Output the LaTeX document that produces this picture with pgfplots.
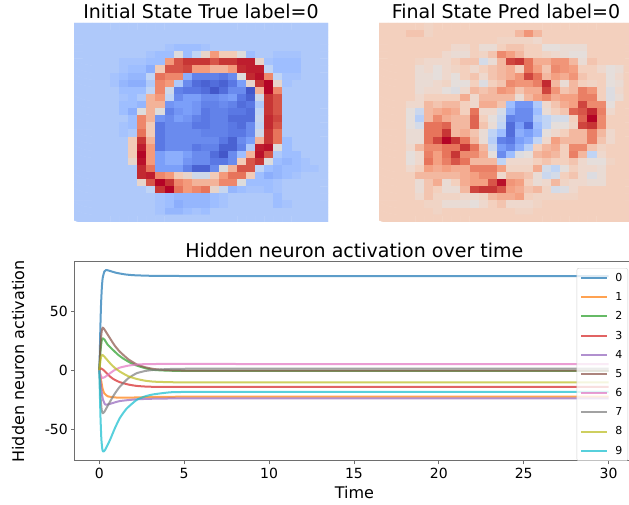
\documentclass[border=0pt]{standalone}
\usepackage{fontspec}
\setmainfont{DejaVu Sans}
\usepackage{pgfplots}
\pgfplotsset{compat=1.18}
\definecolor{c0}{HTML}{1F77B4}
\definecolor{c1}{HTML}{FF7F0E}
\definecolor{c2}{HTML}{2CA02C}
\definecolor{c3}{HTML}{D62728}
\definecolor{c4}{HTML}{9467BD}
\definecolor{c5}{HTML}{8C564B}
\definecolor{c6}{HTML}{E377C2}
\definecolor{c7}{HTML}{7F7F7F}
\definecolor{c8}{HTML}{BCBD22}
\definecolor{c9}{HTML}{17BECF}
\definecolor{spine}{HTML}{6E6E6E}
\pgfplotsset{
  colormap={cw}{
    rgb255(0pt)=(59,76,192)
    rgb255(2pt)=(90,120,228)
    rgb255(4pt)=(123,159,249)
    rgb255(6pt)=(158,190,255)
    rgb255(8pt)=(192,212,245)
    rgb255(10pt)=(221,220,220)
    rgb255(12pt)=(242,203,183)
    rgb255(14pt)=(244,154,123)
    rgb255(16pt)=(231,116,91)
    rgb255(18pt)=(199,54,53)
    rgb255(20pt)=(180,4,38)
  },
  colormap={cwb}{
    rgb255(0pt)=(59,76,192)
    rgb255(2pt)=(90,120,228)
    rgb255(4pt)=(123,159,249)
    rgb255(6pt)=(158,190,255)
    rgb255(8pt)=(192,212,245)
    rgb255(9pt)=(212,219,232)
    rgb255(10pt)=(229,222,219)
    rgb255(11pt)=(238,216,205)
    rgb255(12pt)=(243,208,190)
    rgb255(14pt)=(244,160,130)
    rgb255(16pt)=(231,116,91)
    rgb255(18pt)=(199,54,53)
    rgb255(20pt)=(180,4,38)
  },
  heat/.style={
    scale only axis, width=254pt, height=199pt, anchor=south west,
    xmin=-0.5, xmax=27.5, ymin=-0.5, ymax=27.5, y dir=reverse,
    xtick=\empty, ytick=\empty, axis line style={draw=none},
    point meta min=0, point meta max=20,
    title style={font=\fontsize{19}{21}\selectfont, yshift=-5pt},
  },
  hm/.style={matrix plot*, mesh/cols=28, mesh/ordering=x varies, point meta=explicit, shader=flat corner},
  /pgfplots/table/hmt/.style={row sep=\\, header=false, x expr={mod(\coordindex,28)}, y expr={floor(\coordindex/28)}, meta index=0},
  ln/.style={line width=2pt, opacity=0.72, no marks, line join=round},
}
\begin{document}
\begin{tikzpicture}[x=1pt,y=1pt]
\path[use as bounding box] (0,0) rectangle (629,505);
\clip (0,0) rectangle (629,505);
\begin{axis}[heat, colormap name=cw, at={(74pt,283pt)}, title={Initial State True label=0}]
\addplot[hm] table[hmt] {
7\\7\\7\\7\\7\\7\\7\\7\\7\\7\\7\\7\\7\\7\\7\\7\\7\\7\\7\\7\\7\\7\\7\\7\\7\\7\\7\\7\\
7\\7\\7\\7\\7\\7\\7\\7\\7\\7\\7\\7\\7\\7\\7\\7\\7\\7\\7\\7\\7\\7\\7\\7\\7\\7\\7\\7\\
7\\7\\7\\7\\7\\7\\7\\7\\7\\7\\7\\7\\7\\7\\7\\7\\7\\7\\7\\7\\7\\7\\7\\7\\7\\7\\7\\7\\
7\\7\\7\\7\\7\\7\\7\\7\\7\\7\\6.5\\6\\6\\6\\6.5\\7\\7\\7\\7\\7\\7\\7\\7\\7\\7\\7\\7\\7\\
7\\7\\7\\7\\7\\7\\7\\7\\6.5\\6\\6\\10\\6\\8\\11\\14\\12\\12\\10\\6\\7\\7\\6.5\\6.5\\6.5\\7\\7\\7\\
7\\7\\7\\7\\7\\6.5\\6.5\\6.5\\6\\6\\14\\17\\18\\18\\18\\17\\18\\18\\19\\19\\11\\6.5\\6\\6\\6\\7\\7\\7\\
7\\7\\7\\7\\7\\6.5\\6\\6\\5\\12\\17\\17\\17.5\\14\\14\\13\\13\\14\\18.5\\19\\19\\8\\6\\6\\6\\7\\7\\7\\
7\\7\\7\\7\\6.5\\6\\5.5\\5.5\\8\\16\\15\\15\\5\\2.5\\2.5\\2.5\\2\\3\\10\\18.5\\19.5\\15\\8\\6.5\\6.5\\7\\7\\7\\
7\\7\\7\\7\\6.5\\5.5\\5\\5\\7\\15\\14\\7\\3\\1.5\\1\\1.5\\1\\2\\4\\11\\18\\20\\11\\6.5\\7\\7\\7\\7\\
7\\7\\7\\7\\7\\6\\6\\6\\8\\15\\9\\2.5\\2\\2\\1.5\\0.5\\1.5\\3\\3\\0.5\\13\\20\\15\\7\\7\\7\\7\\7\\
7\\7\\7\\7\\7\\6.5\\6\\7\\13\\14\\8\\3\\4\\4\\3\\3\\3.5\\4\\2\\1\\9\\18\\17\\7\\7\\7\\7\\7\\
7\\7\\7\\7\\7\\6\\6\\5.5\\13\\13\\3.5\\4\\4\\3.5\\2.5\\2.5\\3\\2.5\\1.5\\2\\7\\18\\17\\7\\7\\7\\7\\7\\
7\\7\\7\\7\\7\\6\\5\\10\\13\\10\\2.5\\3.5\\4\\3.5\\2\\2.5\\2.5\\2\\2\\1.5\\8\\18\\17\\7\\7\\7\\7\\7\\
7\\7\\7\\7\\7\\7\\6\\15\\13\\3.5\\3\\4\\3.5\\2.5\\2\\2.5\\2.5\\1.5\\1.5\\1.5\\8.5\\18.5\\17.5\\7\\7\\7\\7\\7\\
7\\7\\7\\7\\7\\6.5\\6\\15\\12\\2\\3\\3\\3\\2\\2\\2.5\\2.5\\2\\1.5\\3\\8\\18.5\\17\\7\\7\\7\\7\\7\\
7\\7\\7\\7\\7\\6.5\\7\\16\\12\\2\\3\\3\\3\\3\\2.5\\2.5\\2.5\\2\\2\\3\\9\\18\\16\\7\\7\\7\\7\\7\\
7\\7\\7\\7\\7\\7\\12\\18\\13\\2\\3\\3\\3\\3\\3\\3\\2\\1\\3\\4\\13\\18\\16\\6\\7\\7\\7\\7\\
7\\7\\7\\7\\7\\7\\12\\19\\14\\2\\3\\3\\3\\2\\2.5\\2.5\\1\\1\\2.5\\7\\19\\19.5\\10\\6\\7\\7\\7\\7\\
7\\7\\7\\7\\7\\7\\12\\20\\14\\4\\5\\5\\4\\3\\3\\1.5\\0.5\\3\\6\\13\\19.5\\17\\7\\6\\6\\7\\7\\7\\
7\\7\\7\\7\\7\\7\\11\\19.5\\14\\4\\5\\5\\3.5\\3\\3\\2\\2\\3\\12\\17\\18\\10\\6\\5.5\\6\\6.5\\7\\7\\
7\\7\\7\\7\\7\\7\\7\\18.5\\16\\4\\4\\4\\2.5\\1\\1\\3\\10\\13\\17\\17\\8\\6\\5.5\\6\\6\\6.5\\6.5\\7\\
7\\7\\7\\7\\7\\7\\7\\18.5\\19\\15\\14\\12\\11\\9\\9\\12\\14\\16\\16\\12\\6\\5\\5.5\\6\\6.5\\7\\7\\7\\
7\\7\\7\\7\\7\\7\\7\\11\\17\\20\\18\\15\\14\\13\\13\\13\\15\\15\\10\\6\\6\\6\\6.5\\7\\7\\7\\7\\7\\
7\\7\\7\\7\\7\\7\\7\\7\\8\\18\\20\\16\\14\\15\\16\\11\\8.5\\5.5\\6\\6.5\\6.5\\6\\6.5\\7\\7\\7\\7\\7\\
7\\7\\7\\7\\7\\7\\7\\7\\7\\6.5\\6\\5.5\\5.5\\5.5\\5.5\\6\\6.5\\7\\7\\7\\7\\7\\6\\7\\7\\7\\7\\7\\
7\\7\\7\\7\\7\\7\\7\\7\\7\\6.5\\6\\5\\5.5\\5.5\\5.5\\6\\6.5\\7\\7\\7\\7\\7\\6\\6.5\\7\\7\\7\\7\\
7\\7\\7\\7\\7\\7\\7\\7\\7\\6.5\\5.5\\5.5\\6\\6.5\\6\\7\\7\\7\\7\\7\\7\\7\\7\\7\\7\\7\\7\\7\\
7\\7\\7\\7\\7\\7\\7\\7\\7\\7\\7\\7\\7\\7\\7\\7\\7\\7\\7\\7\\7\\7\\7\\7\\7\\7\\7\\7\\
};
\end{axis}
\begin{axis}[heat, colormap name=cwb, at={(379pt,283pt)}, title={Final State Pred label=0}]
\addplot[hm] table[hmt] {
12\\12\\12\\12\\12\\11.5\\12\\12\\12\\12\\12\\12\\12\\12\\12\\12\\12\\12\\12\\12\\12\\12\\12\\12\\12\\12\\12\\12\\
12\\12\\12\\12.5\\12.5\\11.5\\12\\12\\12\\12\\12\\12\\12\\12\\12\\13\\14.5\\13\\12\\12\\12\\12\\12\\12\\12\\12\\12\\12\\
12\\12\\12\\12\\12\\12\\12\\12\\12\\12\\12\\12\\12\\11.5\\11.5\\11.5\\11.5\\11\\12\\12\\12\\12\\12\\12\\12\\12\\12\\12\\
12\\12\\12\\12\\12\\12\\12\\12\\11\\11\\12\\10.5\\10.5\\12\\12.5\\12.5\\12\\12\\10\\10\\10.5\\10.5\\10.5\\12\\12\\12\\12\\12\\
12\\12\\12\\12\\12\\12\\12\\11\\10.5\\10.5\\12\\11.5\\12.5\\15\\14\\13\\12\\12\\11.5\\11\\10.5\\10\\10\\12\\12\\12\\12\\12\\
12\\12\\12\\12\\11.5\\11\\11\\11\\12\\12.5\\12.5\\9\\10.5\\13\\17.5\\18\\16\\13.5\\13.5\\14.5\\14.5\\13\\10.5\\12.5\\12\\12\\12\\12\\
12\\12\\12\\12\\10.5\\11\\10\\11\\11.5\\12\\11\\12\\12.5\\13\\13.5\\12\\16\\14\\12.5\\15\\14.5\\14\\12\\12\\11\\10\\10.5\\12\\
12\\12\\12\\12\\10.5\\10.5\\10\\11\\10\\12\\12.5\\11\\12.5\\13\\13.5\\14.5\\17.5\\16\\13\\14\\13.5\\14.5\\12.5\\12\\12\\10\\11\\12\\
12\\12\\12\\12\\10.5\\10.5\\11\\11.5\\10\\10\\12\\9.5\\12\\12.5\\15\\14.5\\14.5\\15.5\\18.5\\13\\10.5\\13\\12\\11.5\\12\\10\\10.5\\12\\
12\\12\\12\\12\\10.5\\11\\11\\10\\9.5\\11\\13\\12.5\\13\\14.5\\14\\12.5\\13.5\\13.5\\17.5\\14.5\\12.5\\13\\15.5\\14.5\\12\\9.5\\11\\12\\
12\\12\\12\\12\\11\\12\\12\\12\\12\\13.5\\11\\13\\13\\13\\13\\10.5\\13\\14\\15\\13.5\\14\\14\\15.5\\15.5\\12\\9.5\\10.5\\12\\
12\\12\\12\\11\\11\\13\\12.5\\13\\13\\12\\11\\13.5\\13.5\\12.5\\6\\3.5\\3.5\\7\\11\\12.5\\13.5\\14\\17.5\\15\\15\\10\\12\\12\\
12\\12\\12\\10\\8.5\\13\\13.5\\14\\13.5\\12\\16\\11\\11\\9\\5\\3\\3\\6\\10.5\\12\\12.5\\16.5\\17\\18.5\\15.5\\11\\12\\12\\
12\\12\\12\\10\\7.5\\13\\15\\13.5\\13\\13\\16.5\\12\\10\\8.5\\2.5\\3\\3\\7\\8\\9\\9\\12\\16.5\\20\\15\\12\\12\\12\\
12\\12\\12\\10\\9\\16\\16\\16.5\\13\\13\\16.5\\12.5\\10.5\\8\\1.5\\4\\1.5\\6\\8\\10\\10\\11.5\\17.5\\18\\15\\12\\12\\12\\
12\\12\\12\\10.5\\10.5\\16\\16\\18\\13\\13.5\\12.5\\10.5\\8\\6\\1.5\\5\\4\\5.5\\10\\11\\12\\13\\13\\15.5\\13\\11\\12\\12\\
12\\12\\12\\10.5\\10.5\\16\\17.5\\20\\18\\16\\13\\10.5\\7.5\\2.5\\2\\4\\5\\8\\11\\14\\13\\13\\13\\15.5\\12.5\\11\\12\\12\\
12\\12\\12\\11\\13\\15\\15\\16\\16\\18\\16\\13\\8.5\\4\\3\\5\\7.5\\12\\13\\13.5\\12\\15\\15\\12.5\\11.5\\12\\12\\12\\
12\\12\\12\\10\\11\\15.5\\14\\16\\18\\15\\15\\13.5\\10\\3\\6\\9.5\\10\\13\\13.5\\13\\12\\15.5\\13\\8\\11\\12\\12\\12\\
12\\12\\12\\10\\11\\16\\14\\15.5\\17\\16\\13\\13\\13\\8\\11\\11\\11\\12\\12.5\\12\\12\\12.5\\11\\10\\10\\11.5\\12\\12\\
12\\12\\12\\11\\12\\14\\13.5\\14\\13.5\\13.5\\15.5\\15.5\\15.5\\14\\11.5\\11.5\\11.5\\13.5\\9\\8\\10\\12\\11\\11\\10.5\\12\\12\\12\\
12\\12\\12\\12\\13\\13\\13\\13\\13\\13.5\\14\\15\\15\\11\\13\\13\\12.5\\10.5\\8.5\\9\\12\\12.5\\11\\9.5\\10.5\\12\\12\\12\\
12\\12\\12\\12\\10.5\\12.5\\13.5\\10.5\\12\\13.5\\14\\14\\17\\19.5\\14.5\\14\\12\\10.5\\11\\13\\11.5\\11\\11\\10.5\\10.5\\12\\12\\12\\
12\\12\\12\\12\\10.5\\12.5\\12\\10.5\\10.5\\13\\17.5\\18\\18\\17\\14\\13.5\\12.5\\13\\11.5\\9\\9.5\\11\\12\\12\\12\\12\\12\\12\\
12\\12\\12\\12\\11\\12.5\\11.5\\11.5\\11.5\\11\\11\\11.5\\13\\13.5\\13.5\\14\\12\\11.5\\11.5\\11.5\\11.5\\11.5\\12\\12\\12\\12\\12\\12\\
12\\12\\12\\12\\12\\11.5\\11.5\\10.5\\10.5\\10.5\\10\\11\\12\\12.5\\11\\11\\11\\11.5\\12\\12\\12\\12\\12\\12\\12\\12\\12\\12\\
12\\12\\12\\12\\12\\12\\11.5\\12\\12\\12\\12\\12\\12\\12\\12\\11.5\\11.5\\12\\12\\12\\12\\12\\12\\12\\12\\12\\12\\12\\
12\\12\\12\\12\\12\\12\\12\\12\\12\\12\\12\\12\\12\\12\\12\\12\\12\\12\\12\\12\\12\\12\\12\\12\\12\\12\\12\\12\\
};
\end{axis}
\begin{axis}[
  scale only axis, width=559.3pt, height=199.3pt, anchor=south west, at={(74.7pt,44pt)},
  xmin=-1.45, xmax=31.5, ymin=-76.6, ymax=91.7,
  xtick={0,5,10,15,20,25,30}, ytick={-50,0,50},
  tick style={spine, line width=0.7pt}, tick align=outside, major tick length=3.5pt,
  xtick pos=bottom, ytick pos=left,
  axis line style={spine, line width=1pt},
  tick label style={font=\fontsize{14}{16}\selectfont},
  /pgf/number format/assume math mode=true,
  title={Hidden neuron activation over time},
  title style={font=\fontsize{19}{21}\selectfont, yshift=-6pt},
  xlabel={Time}, ylabel={Hidden neuron activation},
  label style={font=\fontsize{16}{18}\selectfont},
  ylabel shift=13.5pt, xlabel shift=1pt,
  clip=true,
  legend cell align=left,
  legend style={at={(0.9893,0.968)}, anchor=north east, font=\fontsize{11}{13}\selectfont,
    fill opacity=0.8, draw opacity=1, text opacity=1, draw=black!18, rounded corners=2pt,
    row sep=5.6pt, inner xsep=3.5pt, inner ysep=3pt, /tikz/column 1/.style={column sep=5pt}},
  legend image code/.code={\draw[#1, line width=2pt] (0pt,0pt) -- (26pt,0pt);},
]
\addplot[ln,c0,smooth,tension=0.3] coordinates {(0,0)(0.03,15)(0.06,35)(0.1,55)(0.15,70)(0.2,78)(0.3,83.5)(0.4,84.7)(0.6,84)(1,82.3)(1.5,81)(2,80.3)(3,79.8)(5,79.6)(10,79.6)(30,79.6)};
\addlegendentry{0}
\addplot[ln,c1,smooth,tension=0.3] coordinates {(0,0)(0.05,-3)(0.1,-8)(0.2,-16)(0.3,-19.5)(0.5,-22)(1,-23)(2,-23)(3,-22.6)(5,-22.3)(10,-22.3)(30,-22.3)};
\addlegendentry{1}
\addplot[ln,c2,smooth,tension=0.3] coordinates {(0,0)(0.04,9)(0.08,18)(0.14,25)(0.2,27)(0.3,26)(0.5,21.5)(0.82,17)(1.1,13.2)(1.4,10)(1.8,6.6)(2.2,4)(2.7,1.8)(3.2,0.3)(4,-0.3)(5,-0.5)(10,-0.5)(30,-0.5)};
\addlegendentry{2}
\addplot[ln,c3,smooth,tension=0.3] coordinates {(0,0.5)(0.08,1.7)(0.24,0.3)(0.63,-5.3)(0.9,-8)(1.2,-10)(1.7,-12)(2.2,-13.2)(2.8,-13.8)(3.5,-14)(6,-14.1)(10,-14.1)(30,-14.1)};
\addlegendentry{3}
\addplot[ln,c4,smooth,tension=0.3] coordinates {(0,0)(0.05,-6)(0.1,-14)(0.2,-24)(0.35,-29)(0.6,-28.5)(1.2,-26)(2.2,-24.5)(3.2,-24)(5,-23.7)(10,-23.7)(30,-23.7)};
\addlegendentry{4}
\addplot[ln,c5,smooth,tension=0.3] coordinates {(0,0)(0.04,12)(0.08,24)(0.14,33)(0.2,36)(0.3,34.5)(0.63,27)(0.9,21)(1.2,15.8)(1.7,9.4)(2.2,5)(2.7,2.6)(3.2,1.1)(4,0.1)(5,-0.2)(10,-0.3)(30,-0.3)};
\addlegendentry{5}
\addplot[ln,c6,smooth,tension=0.3] coordinates {(0,0)(0.06,-3.5)(0.18,-6.5)(0.35,-5.5)(0.63,-2.5)(0.9,0.2)(1.2,2.2)(1.7,3.9)(2.2,4.8)(3.2,5.3)(10,5.3)(30,5.3)};
\addlegendentry{6}
\addplot[ln,c7,smooth,tension=0.3] coordinates {(0,0)(0.04,-12)(0.08,-24)(0.14,-33.5)(0.2,-36.3)(0.3,-35)(0.63,-26.5)(0.9,-20)(1.2,-14)(1.7,-6.8)(2.2,-2.5)(2.7,-0.6)(3.2,0.3)(4.2,1.1)(7,1.4)(30,1.4)};
\addlegendentry{7}
\addplot[ln,c8,smooth,tension=0.3] coordinates {(0,0)(0.05,6)(0.1,11)(0.18,13)(0.3,11.5)(0.63,6)(0.9,2.2)(1.2,-1)(1.7,-5)(2.2,-7.3)(2.7,-8.8)(3.2,-9.6)(4,-10)(5,-10.2)(10,-10.2)(30,-10.2)};
\addlegendentry{8}
\addplot[ln,c9,smooth,tension=0.3] coordinates {(0,0)(0.03,-18)(0.07,-40)(0.12,-58)(0.18,-67)(0.24,-68.7)(0.35,-67)(0.63,-58.8)(0.9,-49.5)(1.2,-40.5)(1.6,-32.5)(2.2,-25)(2.7,-22)(3.2,-20.3)(4.2,-18.6)(6,-18.3)(30,-18.3)};
\addlegendentry{9}
\end{axis}
\end{tikzpicture}
\end{document}
